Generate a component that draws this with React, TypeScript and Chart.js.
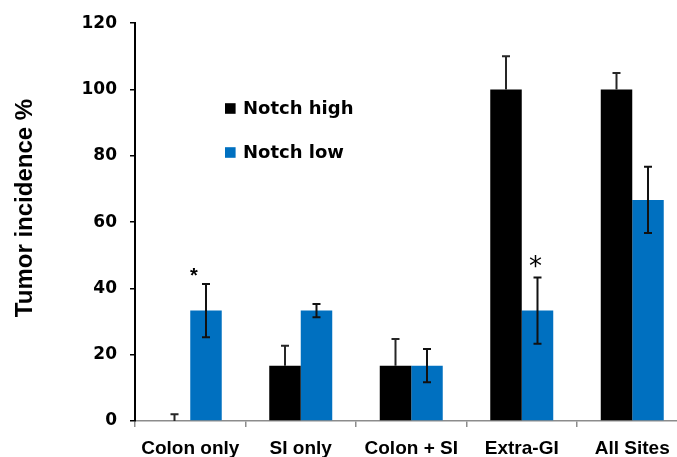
import React, { useEffect, useRef } from "react";
import { Chart, registerables } from "chart.js";

Chart.register(...registerables);

const categories = ["Colon only", "SI only", "Colon + SI", "Extra-GI", "All Sites"];
const seriesNames = ["Notch high", "Notch low"];
const notchHigh = [0, 16.7, 16.7, 100, 100];
const notchLow = [33.3, 33.3, 16.7, 33.3, 66.7];
const notchHighErr = [2, 6, 8, 10, 5];
const notchLowErr = [8, 2, 5, 10, 10];
const asteriskCategory = [0, 3];
const asteriskValue = [44.4, 47.9];
const yTicks = [0, 20, 40, 60, 80, 100, 120];
const yTitle = "Tumor incidence %";

const BLACK = "#000000";
const BLUE = "#0070C0";

const errorBarPlugin = {
  id: "errorBars",
  afterDatasetsDraw(chart: any) {
    const ctx = chart.ctx;
    const yScale = chart.scales.y;
    const errs = [notchHighErr, notchLowErr];
    chart.data.datasets.forEach((ds: any, i: number) => {
      const meta = chart.getDatasetMeta(i);
      meta.data.forEach((el: any, j: number) => {
        const v = ds.data[j];
        const e = errs[i][j];
        const x = el.x;
        const yt = yScale.getPixelForValue(v + e);
        const yb = yScale.getPixelForValue(Math.max(0, v - e));
        ctx.save();
        ctx.strokeStyle = i === 0 ? "#262626" : "#111111";
        ctx.lineWidth = 2;
        ctx.beginPath();
        if (i === 0) {
          // only the part above the black bar is visible
          ctx.moveTo(x, yt);
          ctx.lineTo(x, Math.min(yb, yScale.getPixelForValue(v)));
          ctx.moveTo(x - 4, yt);
          ctx.lineTo(x + 4, yt);
        } else {
          ctx.moveTo(x, yt);
          ctx.lineTo(x, yb);
          ctx.moveTo(x - 4, yt);
          ctx.lineTo(x + 4, yt);
          if (v - e > 0) {
            ctx.moveTo(x - 4, yb);
            ctx.lineTo(x + 4, yb);
          }
        }
        ctx.stroke();
        ctx.restore();
      });
    });
    // asterisks
    const meta1 = chart.getDatasetMeta(1);
    asteriskCategory.forEach((ci, k) => {
      const el: any = meta1.data[ci];
      const x = el.x - (k === 0 ? 12 : 2);
      const y = yScale.getPixelForValue(asteriskValue[k]);
      ctx.save();
      ctx.fillStyle = "#000";
      ctx.textAlign = "center";
      ctx.textBaseline = "middle";
      ctx.font = k === 0 ? "bold 20px 'Liberation Sans'" : "26px 'DejaVu Sans'";
      ctx.fillText("*", x, y + (k === 0 ? 3 : 6));
      ctx.restore();
    });
  },
};

const decorPlugin = {
  id: "decor",
  afterDraw(chart: any) {
    const ctx = chart.ctx;
    // y title
    ctx.save();
    ctx.translate(25, 208);
    ctx.rotate(-Math.PI / 2);
    ctx.font = "bold 24px 'Liberation Sans'";
    ctx.fillStyle = "#000";
    ctx.textAlign = "center";
    ctx.textBaseline = "middle";
    ctx.fillText(yTitle, 0, 0);
    ctx.restore();
    // legend
    const colors = [BLACK, BLUE];
    const ys = [108.5, 152.5];
    chart.data.datasets.forEach((ds: any, i: number) => {
      ctx.save();
      ctx.fillStyle = colors[i];
      ctx.fillRect(225, ys[i] - 5.3, 10.6, 10.6);
      ctx.fillStyle = "#000";
      ctx.font = "bold 18px 'DejaVu Sans'";
      ctx.textAlign = "left";
      ctx.textBaseline = "middle";
      ctx.fillText(ds.label, 243, ys[i] + 0.5);
      ctx.restore();
    });
  },
};

export default function App() {
  const ref = useRef<HTMLCanvasElement>(null);
  useEffect(() => {
    document.body.style.margin = "0";
    const chart = new Chart(ref.current!, {
      type: "bar",
      data: {
        labels: categories,
        datasets: [
          { label: seriesNames[0], data: notchHigh, backgroundColor: BLACK, borderWidth: 0 },
          { label: seriesNames[1], data: notchLow, backgroundColor: BLUE, borderWidth: 0 },
        ],
      },
      options: {
        responsive: false,
        animation: false,
        devicePixelRatio: 1,
        layout: { padding: { top: 22.7, right: 12.5, left: 0, bottom: 0 } },
        plugins: { legend: { display: false }, tooltip: { enabled: false } },
        datasets: { bar: { categoryPercentage: 0.57, barPercentage: 1 } },
        scales: {
          x: {
            afterFit: (s: any) => {
              s.height = 36;
            },
            grid: {
              drawOnChartArea: false,
              tickLength: 6,
              color: "#8c8c8c",
              lineWidth: 1.5,
              offset: true,
            },
            border: { color: "#8c8c8c", width: 1.5 },
            ticks: {
              color: "#000",
              padding: 10,
              maxRotation: 0,
              font: { family: "'Liberation Sans'", size: 19, weight: "bold" },
            },
          },
          y: {
            min: 0,
            max: 120,
            afterFit: (s: any) => {
              s.width = 135;
            },
            afterBuildTicks: (s: any) => {
              s.ticks = yTicks.map((v) => ({ value: v }));
            },
            grid: {
              drawOnChartArea: false,
              tickLength: 5,
              color: "#000",
              lineWidth: 1.5,
            },
            border: { color: "#000", width: 2 },
            ticks: {
              color: "#000",
              padding: 13,
              font: { family: "'DejaVu Sans'", size: 17, weight: "bold" },
            },
          },
        },
      },
      plugins: [errorBarPlugin, decorPlugin],
    });
    return () => chart.destroy();
  }, []);
  return (
    <div style={{ position: "fixed", left: 0, top: 0, width: 677, height: 457, overflow: "hidden", background: "#fff" }}>
      <canvas ref={ref} width={700} height={457} style={{ display: "block" }} />
    </div>
  );
}
